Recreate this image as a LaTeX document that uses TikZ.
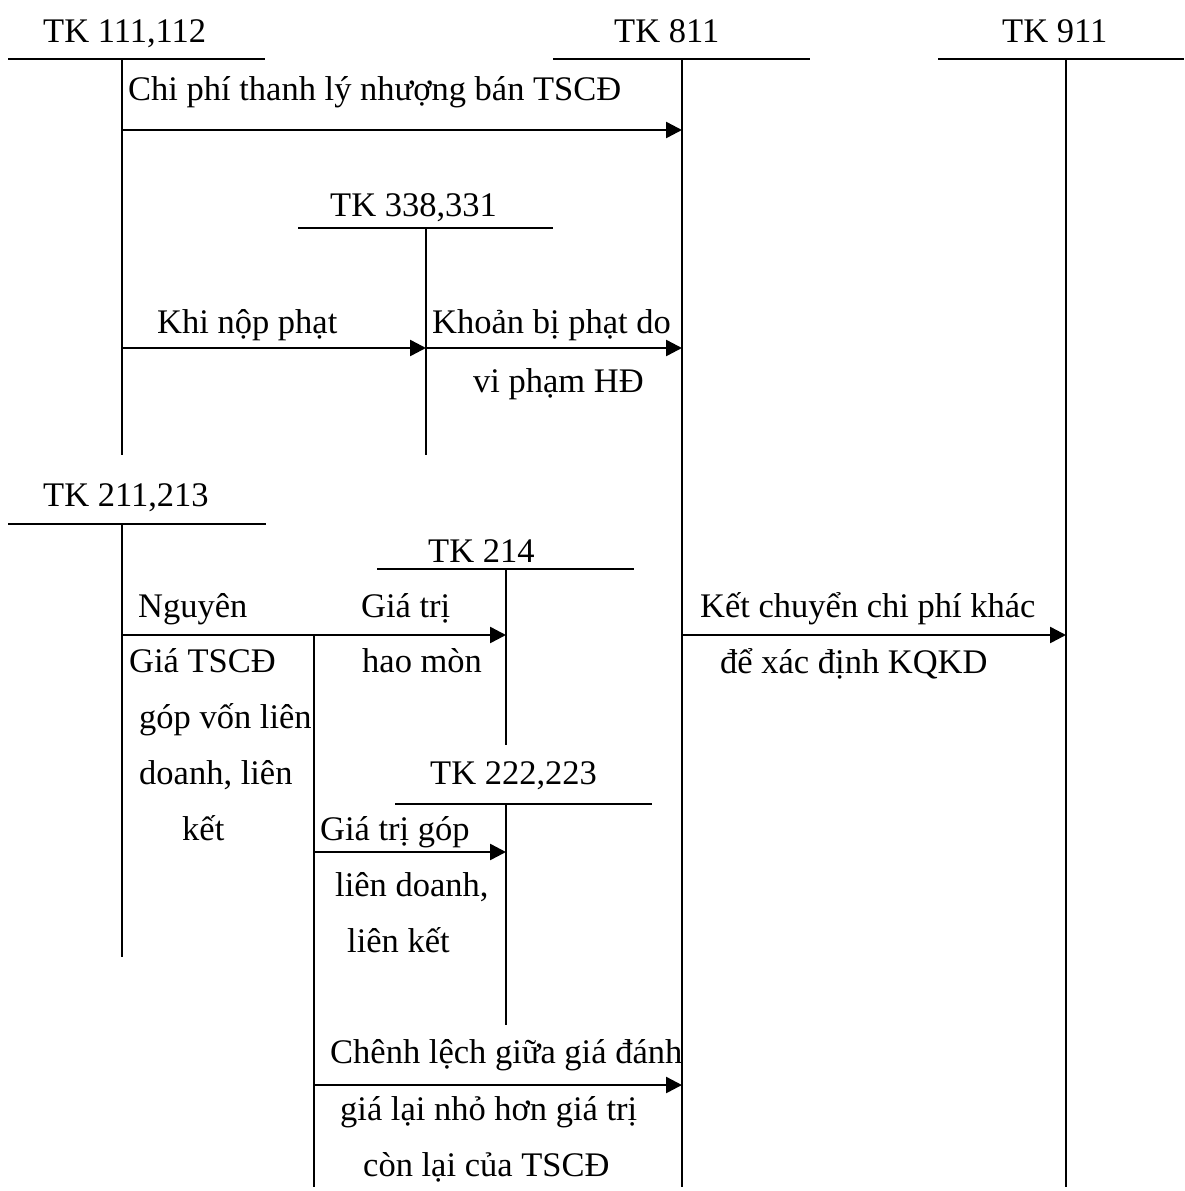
\documentclass[tikz,border=0pt]{standalone}
\usepackage{fontspec}
\setmainfont{Liberation Serif}
\usetikzlibrary{arrows.meta}

\begin{document}
\begin{tikzpicture}[x=1pt,y=-1pt,
  rule/.style={line width=2.2pt},
  flow/.style={line width=2.5pt,-{Triangle[length=16pt,width=16pt]}},
  lbl/.style={anchor=base west,inner sep=0pt,font=\fontsize{34.5}{40}\selectfont}]

\useasboundingbox (0,0) rectangle (1184,1191);

% ---- account headers ----
\node[lbl] (h111) at (43,42)   {TK 111,112};
\node[lbl] (h811) at (614,42)  {TK 811};
\node[lbl] (h911) at (1002,42) {TK 911};
\node[lbl] (h338) at (330,216) {TK 338,331};
\node[lbl] (h211) at (43,506)  {TK 211,213};
\node[lbl] (h214) at (428,562) {TK 214};
\node[lbl] (h222) at (430,784) {TK 222,223};

% ---- T-account skeletons ----
% TK 111,112
\coordinate (a111l) at (8,59);   \coordinate (a111r) at (265,59);
\coordinate (a111t) at (122,59); \coordinate (a111b) at (122,455);
% TK 811
\coordinate (a811l) at (553,59); \coordinate (a811r) at (810,59);
\coordinate (a811t) at (682,59); \coordinate (a811b) at (682,1187);
% TK 911
\coordinate (a911l) at (938,59); \coordinate (a911r) at (1184,59);
\coordinate (a911t) at (1066,59); \coordinate (a911b) at (1066,1187);
% TK 338,331
\coordinate (a338l) at (298,228); \coordinate (a338r) at (553,228);
\coordinate (a338t) at (426,228); \coordinate (a338b) at (426,455);
% TK 211,213
\coordinate (a211l) at (8,524);   \coordinate (a211r) at (266,524);
\coordinate (a211t) at (122,524); \coordinate (a211b) at (122,957);
% TK 214
\coordinate (a214l) at (377,569); \coordinate (a214r) at (634,569);
\coordinate (a214t) at (506,569); \coordinate (a214b) at (506,745);
% TK 222,223
\coordinate (a222l) at (395,804); \coordinate (a222r) at (652,804);
\coordinate (a222t) at (506,804); \coordinate (a222b) at (506,1025);

\foreach \a in {a111,a811,a911,a338,a211,a214,a222}{
  \draw[rule] (\a l) -- (\a r);
  \draw[rule] (\a t) -- (\a b);
}

% ---- posting points ----
\coordinate (p111a) at (122,130);  \coordinate (p811a) at (682,130);
\coordinate (p111b) at (122,348);  \coordinate (p338b) at (426,348);
\coordinate (p811b) at (682,348);
\coordinate (p211c) at (122,635);  \coordinate (p214c) at (506,635);
\coordinate (pbrc)  at (314,635);  \coordinate (pbrb)  at (314,1187);
\coordinate (pbrd)  at (314,852);  \coordinate (p222d) at (506,852);
\coordinate (pbre)  at (314,1085); \coordinate (p811e) at (682,1085);
\coordinate (p811f) at (682,635);  \coordinate (p911f) at (1066,635);

% branch line carrying the net book value
\draw[rule] (pbrc) -- (pbrb);

% ---- postings ----
\draw[flow] (p111a) -- (p811a);
\draw[flow] (p111b) -- (p338b);
\draw[flow] (p338b) -- (p811b);
\draw[flow] (p211c) -- (p214c);
\draw[flow] (pbrd)  -- (p222d);
\draw[flow] (pbre)  -- (p811e);
\draw[flow] (p811f) -- (p911f);

% ---- posting labels ----
\node[lbl] (t1)  at (128,100)  {Chi phí thanh lý nhượng bán TSCĐ};
\node[lbl] (t2)  at (157,333)  {Khi nộp phạt};
\node[lbl] (t3)  at (432,333)  {Khoản bị phạt do};
\node[lbl] (t3b) at (473,392)  {vi phạm HĐ};
\node[lbl] (t4a) at (138,617)  {Nguyên};
\node[lbl] (t4b) at (129,672)  {Giá TSCĐ};
\node[lbl] (t4c) at (139,728)  {góp vốn liên};
\node[lbl] (t4d) at (139,784)  {doanh, liên};
\node[lbl] (t4e) at (182,840)  {kết};
\node[lbl] (t5a) at (361,617)  {Giá trị};
\node[lbl] (t5b) at (362,672)  {hao mòn};
\node[lbl] (t6a) at (320,840)  {Giá trị góp};
\node[lbl] (t6b) at (335,896)  {liên doanh,};
\node[lbl] (t6c) at (347,952)  {liên kết};
\node[lbl] (t7a) at (330,1063) {Chênh lệch giữa giá đánh};
\node[lbl] (t7b) at (340,1120) {giá lại nhỏ hơn giá trị};
\node[lbl] (t7c) at (363,1176) {còn lại của TSCĐ};
\node[lbl] (t8a) at (700,617)  {Kết chuyển chi phí khác};
\node[lbl] (t8b) at (720,673)  {để xác định KQKD};

\end{tikzpicture}
\end{document}
